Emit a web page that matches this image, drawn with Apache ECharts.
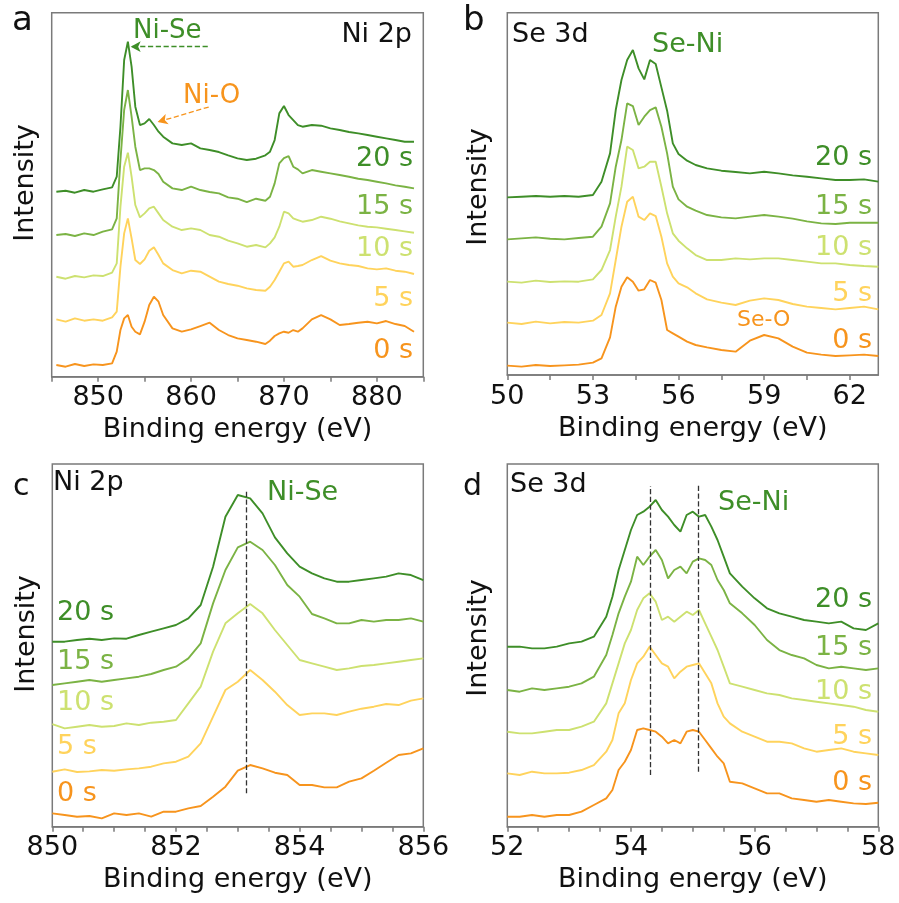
<!DOCTYPE html>
<html>
<head>
<meta charset="utf-8">
<script src="https://cdn.jsdelivr.net/npm/echarts@6/dist/echarts.min.js"></script>
<style>
  html, body { margin: 0; padding: 0; background: #fff; }
  #chart { width: 899px; height: 903px; }
</style>
</head>
<body>
<div id="chart"></div>
<script>
// sample labels and colours (0 s -> 20 s)
var timeLabels = ['0 s', '5 s', '10 s', '15 s', '20 s'];
var colors = ['#F7941D', '#FFD35C', '#CDE170', '#7BB344', '#3E8E28'];

// panel a : Ni 2p survey
var xA = [845.5, 846.5, 847.5, 848.5, 849.5, 850.5, 851.5, 852, 852.4, 852.8, 853.2, 853.6, 854, 854.5, 855, 855.5, 856, 856.5, 857,
  858, 859, 860, 861, 862, 863, 864, 865, 866, 867, 868, 868.5, 869, 869.5, 870, 870.5, 871, 871.5, 872,
  873, 874, 875, 876, 877, 878, 879, 880, 881, 882, 883, 884];
var a0 = [35, 30, 38, 32, 37, 35, 40, 75, 140, 175, 185, 150, 135, 127, 165, 215, 240, 225, 185,
  145, 135, 142, 152, 162, 140, 125, 115, 110, 105, 98, 108, 122, 130, 135, 132, 140, 135, 145,
  172, 185, 172, 155, 158, 162, 165, 160, 167, 158, 152, 135];
var a5 = [172, 165, 175, 168, 172, 168, 178, 195, 330, 430, 475, 415, 350, 338, 352, 378, 388, 365, 340,
  320, 310, 318, 315, 300, 285, 278, 273, 265, 260, 258, 270, 290, 315, 340, 345, 330, 332, 335,
  350, 362, 348, 340, 335, 332, 325, 322, 325, 318, 315, 308];
var a10 = [300, 294, 302, 298, 304, 302, 312, 340, 510, 630, 672, 600, 515, 478, 490, 505, 510, 490, 470,
  450, 440, 445, 440, 425, 420, 408, 400, 390, 395, 388, 400, 418, 450, 495, 490, 475, 470, 465,
  470, 480, 474, 466, 460, 454, 450, 448, 444, 440, 436, 432];
var a15 = [425, 428, 422, 430, 425, 435, 442, 475, 650, 800, 860, 780, 690, 620, 625, 625, 620, 608, 585,
  565, 560, 570, 560, 554, 550, 538, 534, 524, 534, 528, 540, 580, 640, 656, 662, 630, 622, 610,
  620, 615, 610, 605, 600, 594, 590, 585, 580, 574, 570, 565];
var a20 = [555, 558, 552, 560, 555, 562, 568, 600, 750, 950, 1005, 930, 810, 755, 760, 773, 755, 735, 720,
  700, 695, 700, 685, 680, 674, 664, 655, 650, 654, 664, 675, 710, 790, 812, 785, 770, 755, 750,
  755, 753, 745, 740, 734, 730, 725, 720, 715, 710, 705, 705];

// panel b : Se 3d survey
var xB = [50, 50.5, 51, 51.5, 52, 52.5, 53, 53.3, 53.6, 53.8, 54, 54.2, 54.4, 54.6, 54.8, 55, 55.2, 55.4,
  55.6, 55.8, 56, 56.3, 56.6, 57, 57.5, 58, 58.5, 59, 59.5, 60, 60.5, 61, 61.5, 62, 62.5, 63];
var b0 = [28, 25, 30, 27, 29, 31, 37, 50, 113, 205, 265, 293, 280, 253, 257, 285, 277, 225,
  135, 125, 115, 100, 90, 83, 75, 70, 103, 120, 110, 85, 67, 61, 57, 59, 61, 57];
var b5 = [157, 153, 160, 155, 159, 157, 163, 180, 245, 345, 445, 520, 535, 475, 465, 485, 477, 415,
  335, 295, 275, 263, 245, 227, 217, 210, 223, 230, 225, 213, 205, 201, 197, 201, 205, 197];
var b10 = [280, 277, 283, 279, 281, 280, 287, 315, 375, 475, 565, 685, 675, 620, 625, 640, 640, 565,
  485, 425, 403, 380, 360, 345, 345, 350, 347, 350, 350, 345, 340, 335, 335, 330, 327, 325];
var b15 = [407, 410, 413, 409, 407, 411, 415, 445, 515, 625, 705, 815, 807, 750, 775, 795, 803, 745,
  665, 565, 527, 505, 493, 480, 473, 470, 475, 480, 475, 469, 461, 455, 453, 457, 457, 457];
var b20 = [533, 535, 537, 535, 537, 535, 540, 580, 665, 795, 885, 945, 975, 920, 887, 945, 933, 863,
  793, 695, 663, 643, 630, 620, 613, 609, 605, 610, 605, 599, 595, 590, 585, 585, 587, 580];

// panel c : Ni 2p zoom
var xC = [850, 850.2, 850.4, 850.6, 850.8, 851, 851.2, 851.4, 851.6, 851.8, 852, 852.2, 852.4, 852.6, 852.8,
  853, 853.2, 853.4, 853.6, 853.8, 854, 854.2, 854.4, 854.6, 854.8, 855, 855.2, 855.4, 855.6, 855.8, 856];
var c0 = [40, 35, 30, 32, 25, 40, 35, 40, 30, 45, 45, 55, 62, 90, 120, 168, 185, 175, 162, 155, 125, 125, 118, 118, 135, 145, 168, 192, 215, 220, 235];
var c5 = [165, 172, 164, 166, 170, 168, 172, 175, 180, 190, 195, 210, 250, 330, 410, 435, 470, 440, 405, 365, 335, 340, 340, 335, 345, 354, 360, 368, 365, 378, 385];
var c10 = [308, 295, 300, 305, 300, 302, 310, 305, 312, 315, 320, 370, 420, 525, 610, 640, 668, 640, 590, 545, 500, 490, 480, 470, 475, 482, 485, 490, 495, 500, 505];
var c15 = [425, 430, 435, 440, 435, 440, 445, 450, 458, 470, 480, 505, 550, 670, 770, 838, 855, 830, 785, 725, 690, 638, 625, 610, 610, 620, 615, 620, 620, 625, 615];
var c20 = [555, 555, 560, 564, 560, 565, 564, 575, 585, 595, 605, 625, 665, 780, 930, 995, 985, 940, 868, 820, 780, 760, 745, 735, 735, 740, 745, 750, 760, 755, 740];

// panel d : Se 3d zoom
var xD = [52, 52.2, 52.4, 52.6, 52.8, 53, 53.2, 53.4, 53.6, 53.7, 53.8, 53.9, 54, 54.1, 54.2, 54.3, 54.4, 54.5, 54.6, 54.7,
  54.8, 54.9, 55, 55.1, 55.2, 55.3, 55.4, 55.5, 55.6, 55.8, 56, 56.2, 56.4, 56.6, 56.8, 57, 57.2, 57.4, 57.6, 57.8, 58];
var d0 = [30, 30, 35, 30, 35, 35, 45, 65, 85, 110, 170, 195, 230, 290, 295, 290, 285, 270, 250, 260,
  250, 285, 290, 285, 260, 235, 210, 190, 135, 130, 115, 100, 100, 85, 80, 75, 80, 75, 70, 68, 72];
var d5 = [160, 155, 165, 160, 160, 162, 170, 185, 225, 260, 340, 370, 440, 490, 510, 540, 515, 490, 480, 445,
  465, 480, 485, 490, 460, 430, 370, 330, 310, 285, 270, 255, 255, 250, 235, 225, 230, 235, 225, 220, 215];
var d10 = [285, 280, 280, 285, 290, 290, 300, 315, 370, 430, 490, 550, 590, 650, 685, 700, 675, 620, 630, 615,
  630, 645, 635, 650, 610, 570, 530, 480, 430, 420, 410, 400, 395, 385, 380, 375, 370, 365, 360, 350, 345];
var d15 = [410, 405, 415, 410, 415, 420, 430, 450, 515, 575, 640, 690, 735, 810, 785, 810, 830, 800, 745, 770,
  780, 760, 795, 805, 800, 785, 740, 710, 670, 640, 605, 560, 530, 515, 505, 485, 475, 480, 475, 470, 475];
var d20 = [540, 540, 535, 535, 540, 550, 555, 570, 630, 690, 770, 830, 890, 935, 945, 960, 980, 950, 930, 905,
  885, 935, 945, 930, 935, 900, 860, 810, 760, 720, 685, 655, 640, 630, 620, 615, 610, 615, 595, 590, 610];

// axis ticks and labels
var ticksA = [845, 850, 855, 860, 865, 870, 875, 880, 885];
var labelsA = [850, 860, 870, 880];
var ticksB = [50, 51.5, 53, 54.5, 56, 57.5, 59, 60.5, 62];
var labelsB = [50, 53, 56, 59, 62];
var ticksC = [850, 850.5, 851, 851.5, 852, 852.5, 853, 853.5, 854, 854.5, 855, 855.5, 856];
var labelsC = [850, 852, 854, 856];
var ticksD = [52, 52.5, 53, 53.5, 54, 54.5, 55, 55.5, 56, 56.5, 57, 57.5, 58];
var labelsD = [52, 54, 56, 58];

var FONT = '"DejaVu Sans", Arial, sans-serif';
var frameColor = '#7a7a7a';

function pairs(xs, ys) {
  return xs.map(function (x, i) { return [x, ys[i]]; });
}

function lineSeries(idx, xs, ys, k, extra) {
  var s = {
    type: 'line',
    xAxisIndex: idx,
    yAxisIndex: idx,
    data: pairs(xs, ys),
    showSymbol: false,
    symbol: 'none',
    silent: true,
    lineStyle: { color: colors[k], width: 1.9 },
    itemStyle: { color: colors[k] }
  };
  if (extra) s.markLine = extra;
  return s;
}

function xAxisCfg(idx, min, max, ticks, labels) {
  return {
    type: 'value', gridIndex: idx, min: min, max: max,
    name: 'Binding energy (eV)', nameLocation: 'middle', nameGap: 40,
    nameTextStyle: { fontSize: 27, color: '#111', fontFamily: FONT },
    axisLine: { show: true, onZero: false, lineStyle: { color: frameColor, width: 1.5 } },
    axisTick: { show: true, inside: false, length: 5, customValues: ticks, lineStyle: { color: frameColor, width: 1.5 } },
    axisLabel: { customValues: labels, fontSize: 27, color: '#111', margin: 8, fontFamily: FONT },
    splitLine: { show: false }
  };
}

function yAxisCfg(idx, max) {
  return { type: 'value', gridIndex: idx, min: 0, max: max, show: false };
}

function gridCfg(left, top, width, height) {
  return { left: left, top: top, width: width, height: height, show: true,
    borderColor: frameColor, borderWidth: 1.5, backgroundColor: 'transparent' };
}

function txt(text, x, y, size, color, align, rot) {
  return {
    type: 'text', x: x, y: y, rotation: rot || 0, silent: true,
    style: {
      text: text, fill: color, fontSize: size, fontFamily: FONT,
      align: align, textAlign: align, verticalAlign: 'middle', textVerticalAlign: 'middle'
    }
  };
}

function dashed(color, arrow, lines) {
  return {
    silent: true, animation: false,
    symbol: arrow ? ['none', 'arrow'] : ['none', 'none'],
    symbolSize: [8, 10],
    label: { show: false },
    lineStyle: { type: 'dashed', color: color, width: 1.3 },
    emphasis: { disabled: true },
    data: lines
  };
}

var series = [
  lineSeries(0, xA, a0, 0, dashed(colors[0], true, [[{ coord: [861.9, 809] }, { coord: [856.4, 764] }]])),
  lineSeries(0, xA, a5, 1),
  lineSeries(0, xA, a10, 2),
  lineSeries(0, xA, a15, 3),
  lineSeries(0, xA, a20, 4, dashed(colors[4], true, [[{ coord: [861.8, 990] }, { coord: [853.5, 990] }]])),
  lineSeries(1, xB, b0, 0),
  lineSeries(1, xB, b5, 1),
  lineSeries(1, xB, b10, 2),
  lineSeries(1, xB, b15, 3),
  lineSeries(1, xB, b20, 4),
  lineSeries(2, xC, c0, 0, dashed('#333', false, [[{ coord: [853.13, 100] }, { coord: [853.13, 1010] }]])),
  lineSeries(2, xC, c5, 1),
  lineSeries(2, xC, c10, 2),
  lineSeries(2, xC, c15, 3),
  lineSeries(2, xC, c20, 4),
  lineSeries(3, xD, d0, 0, dashed('#333', false, [
    [{ coord: [54.31, 155] }, { coord: [54.31, 1022] }],
    [{ coord: [55.09, 165] }, { coord: [55.09, 1030] }]
  ])),
  lineSeries(3, xD, d5, 1),
  lineSeries(3, xD, d10, 2),
  lineSeries(3, xD, d15, 3),
  lineSeries(3, xD, d20, 4)
];

var graphics = [
  // panel a
  txt('a', 12, 21, 34, '#111', 'left'),
  txt('Ni 2p', 412, 34.5, 27, '#111', 'right'),
  txt('Ni-Se', 133, 31.5, 26, colors[4], 'left'),
  txt('Ni-O', 183, 96, 26, colors[0], 'left'),
  txt('Intensity', 26, 183, 27, '#111', 'center', Math.PI / 2),
  txt(timeLabels[4], 413, 159, 27, colors[4], 'right'),
  txt(timeLabels[3], 413, 207, 27, colors[3], 'right'),
  txt(timeLabels[2], 413, 249, 27, colors[2], 'right'),
  txt(timeLabels[1], 413, 299, 27, colors[1], 'right'),
  txt(timeLabels[0], 413, 351, 27, colors[0], 'right'),
  // panel b
  txt('b', 463, 21, 34, '#111', 'left'),
  txt('Se 3d', 512, 34.5, 27, '#111', 'left'),
  txt('Se-Ni', 652, 44.5, 27, colors[4], 'left'),
  txt('Se-O', 737, 320.5, 22, colors[0], 'left'),
  txt('Intensity', 479, 187, 27, '#111', 'center', Math.PI / 2),
  txt(timeLabels[4], 872, 157.5, 27, colors[4], 'right'),
  txt(timeLabels[3], 872, 206.5, 27, colors[3], 'right'),
  txt(timeLabels[2], 872, 248, 27, colors[2], 'right'),
  txt(timeLabels[1], 872, 294, 27, colors[1], 'right'),
  txt(timeLabels[0], 872, 341, 27, colors[0], 'right'),
  // panel c
  txt('c', 13, 487, 30, '#111', 'left'),
  txt('Ni 2p', 53, 483, 27, '#111', 'left'),
  txt('Ni-Se', 267, 493, 27, colors[4], 'left'),
  txt('Intensity', 27, 634, 27, '#111', 'center', Math.PI / 2),
  txt(timeLabels[4], 57, 613, 27, colors[4], 'left'),
  txt(timeLabels[3], 57, 662, 27, colors[3], 'left'),
  txt(timeLabels[2], 57, 702.5, 27, colors[2], 'left'),
  txt(timeLabels[1], 57, 747, 27, colors[1], 'left'),
  txt(timeLabels[0], 57, 794, 27, colors[0], 'left'),
  // panel d
  txt('d', 463, 487, 30, '#111', 'left'),
  txt('Se 3d', 510, 484.5, 27, '#111', 'left'),
  txt('Se-Ni', 718, 502.5, 27, colors[4], 'left'),
  txt('Intensity', 479, 638, 27, '#111', 'center', Math.PI / 2),
  txt(timeLabels[4], 872, 600, 27, colors[4], 'right'),
  txt(timeLabels[3], 872, 648, 27, colors[3], 'right'),
  txt(timeLabels[2], 872, 692, 27, colors[2], 'right'),
  txt(timeLabels[1], 872, 737, 27, colors[1], 'right'),
  txt(timeLabels[0], 872, 783, 27, colors[0], 'right')
];

var chart = echarts.init(document.getElementById('chart'), null, { renderer: 'canvas' });
chart.setOption({
  animation: false,
  backgroundColor: '#fff',
  textStyle: { fontFamily: FONT },
  grid: [
    gridCfg(51.7, 12.7, 371.6, 364),
    gridCfg(507.3, 12.7, 371, 362.3),
    gridCfg(52.3, 464, 371, 362.7),
    gridCfg(507.3, 464, 371, 362.7)
  ],
  xAxis: [
    xAxisCfg(0, 845, 885, ticksA, labelsA),
    xAxisCfg(1, 50, 63, ticksB, labelsB),
    xAxisCfg(2, 850, 856, ticksC, labelsC),
    xAxisCfg(3, 52, 58, ticksD, labelsD)
  ],
  yAxis: [
    yAxisCfg(0, 1092),
    yAxisCfg(1, 1087),
    yAxisCfg(2, 1088),
    yAxisCfg(3, 1088)
  ],
  series: series,
  graphic: graphics
});
</script>
</body>
</html>
